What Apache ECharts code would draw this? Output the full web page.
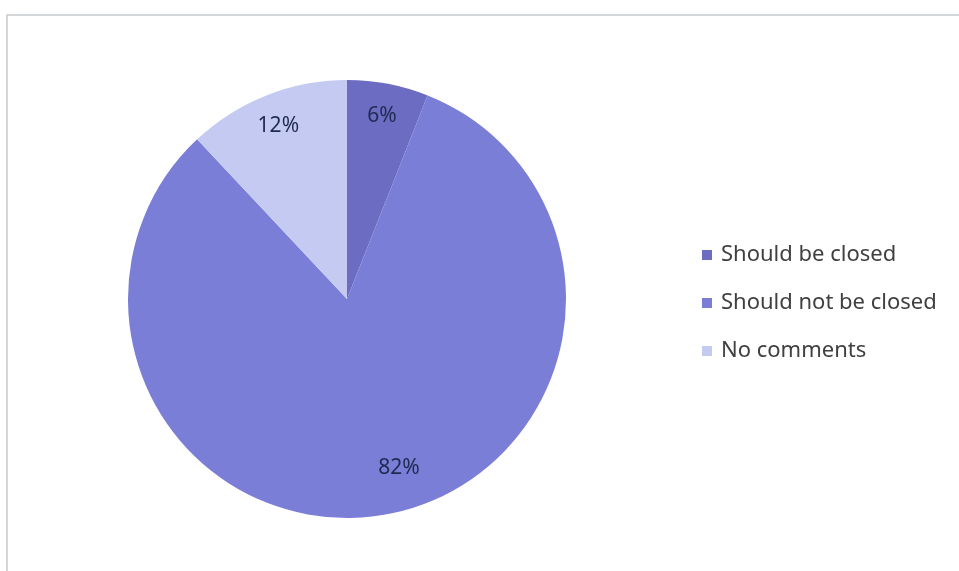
<!DOCTYPE html>
<html>
<head>
<meta charset="utf-8">
<script src="https://cdn.jsdelivr.net/npm/echarts@6/dist/echarts.min.js"></script>
<style>
  html, body { margin: 0; padding: 0; background: #fff; }
  #chart { width: 959px; height: 571px; }
</style>
</head>
<body>
<div id="chart"></div>
<script>
// categories and shares (%)
var categories = ['Should be closed', 'Should not be closed', 'No comments'];
var shares = [6, 82, 12];
var colors = ['#6b6cc2', '#7a7ed6', '#c4caf2'];

var chart = echarts.init(document.getElementById('chart'));

var pieData = categories.map(function (name, i) {
    return { name: name, value: shares[i] };
});

// label ring data; the big slice's label sits a bit off its centre line, like in the original
var labelData = categories.map(function (name, i) {
    var d = { name: name, value: shares[i] };
    if (i === 1) d.label = { offset: [17, -14] };
    return d;
});

var option = {
    animation: false,
    color: colors,
    graphic: [{
        type: 'rect',
        shape: { x: 7, y: 15, width: 980, height: 600 },
        style: { fill: 'none', stroke: '#c8cccf', lineWidth: 1.5 },
        silent: true
    }],
    legend: {
        orient: 'vertical',
        left: 697,
        top: 239,
        itemWidth: 10,
        itemHeight: 10,
        itemGap: 26,
        icon: 'rect',
        textStyle: { fontFamily: 'Noto Sans', fontSize: 22, lineHeight: 22, color: '#404040', padding: [0, 0, 0, 4] },
        data: categories
    },
    series: [{
        // the pie itself
        type: 'pie',
        center: [347, 299],
        radius: [0, 219],
        startAngle: 90,
        clockwise: true,
        label: { show: false },
        labelLine: { show: false },
        itemStyle: { borderWidth: 0 },
        silent: true,
        data: pieData
    }, {
        // transparent ring only used to place the percentage labels near the rim
        type: 'pie',
        center: [347, 299],
        radius: [148, 219],
        startAngle: 90,
        clockwise: true,
        silent: true,
        itemStyle: { color: 'rgba(0,0,0,0)' },
        label: {
            show: true,
            position: 'inside',
            formatter: '{c}%',
            fontFamily: 'Noto Sans',
            fontSize: 21,
            color: '#1f2a50'
        },
        labelLine: { show: false },
        data: labelData
    }]
};

chart.setOption(option);
</script>
</body>
</html>
